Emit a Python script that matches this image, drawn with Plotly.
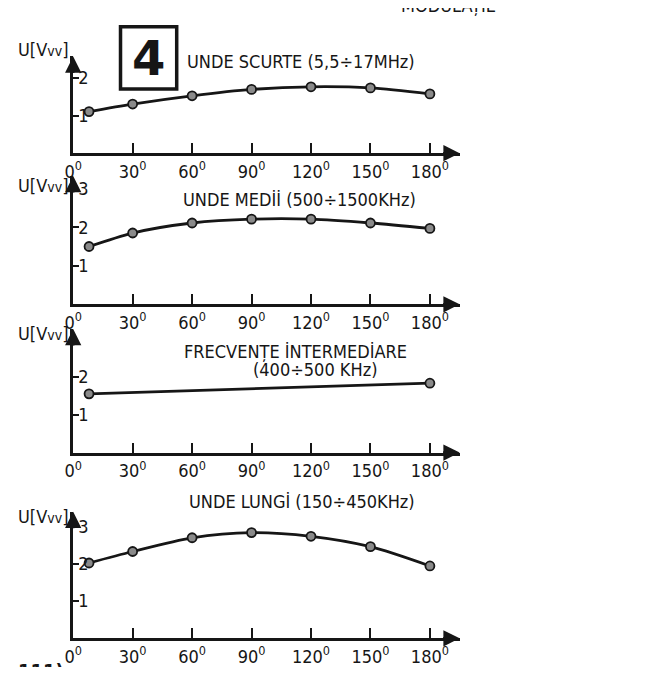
import plotly.graph_objects as go

# ---- data ----
angles = [8, 30, 60, 90, 120, 150, 180]          # first marker is drawn slightly right of the axis
u_unde_scurte = [1.11, 1.31, 1.53, 1.70, 1.77, 1.74, 1.58]
u_unde_medii = [1.50, 1.85, 2.11, 2.21, 2.21, 2.11, 1.97]
angles_fi = [8, 180]
u_frecv_interm = [1.55, 1.83]
u_unde_lungi = [2.03, 2.34, 2.71, 2.85, 2.75, 2.47, 1.95]

x_tick_vals = [0, 30, 60, 90, 120, 150, 180]
x_tick_text = ["0<sup>0</sup>", "30<sup>0</sup>", "60<sup>0</sup>", "90<sup>0</sup>",
               "120<sup>0</sup>", "150<sup>0</sup>", "180<sup>0</sup>"]

titles = [["UNDE SCURTE (5,5÷17MHz)"],
          ["UNDE MEDİİ (500÷1500KHz)"],
          ["FRECVENȚE İNTERMEDİARE", "(400÷500 KHz)"],
          ["UNDE LUNGİ (150÷450KHz)"]]
y_label = "U[V<span style='font-size:14px'>vv</span>]"

# the page places the figure a little in from the top-left corner
OFF_X, OFF_Y = 13, 8
W, H = 650 - 16, 675 - 16
FONT = "DejaVu Sans Condensed, Liberation Sans Narrow, Arial Narrow, sans-serif"
INK = "#161616"


def px(xp):
    return (xp - OFF_X) / W


def py(yp):
    return 1 - (yp - OFF_Y) / H


# panel layout (reference pixels): axis base, axis top, y max, y ticks, titles, label y
panels = [
    dict(x=angles, y=u_unde_scurte, base=155, top=57, ymax=2.58, yt=[1, 2],
         tpos=[(301, 62)], ly=50),
    dict(x=angles, y=u_unde_medii, base=308, top=178, ymax=3.33, yt=[1, 2, 3],
         tpos=[(300, 202)], ly=188),
    dict(x=angles_fi, y=u_frecv_interm, base=458, top=333, ymax=3.26, yt=[1, 2],
         tpos=[(296, 356), (315, 374)], ly=337),
    dict(x=angles, y=u_unde_lungi, base=646, top=518, ymax=3.41, yt=[1, 2, 3],
         tpos=[(302, 508)], ly=523),
]

x_left, x_right = 70, 462
xmax = 195

fig = go.Figure()
annotations = []
for i, p in enumerate(panels, start=1):
    xa = "x" if i == 1 else f"x{i}"
    ya = "y" if i == 1 else f"y{i}"
    yl = f"y{i + 4}"
    fig.add_trace(go.Scatter(
        x=p["x"], y=p["y"], xaxis=xa, yaxis=ya, mode="lines+markers",
        line=dict(color=INK, width=2.8, shape="spline", smoothing=0.8),
        marker=dict(size=9, color="#8a8a8a", line=dict(color=INK, width=1.8)),
        showlegend=False, hoverinfo="skip"))
    # empty trace so that the label-carrying axis is drawn
    fig.add_trace(go.Scatter(x=[], y=[], xaxis=xa, yaxis=yl, showlegend=False,
                             hoverinfo="skip"))
    dom_y = [py(p["base"]), py(p["top"])]
    axx = dict(domain=[px(x_left), px(x_right)], range=[0, xmax], anchor=ya,
               showline=True, linewidth=3, linecolor=INK, showgrid=False, zeroline=False,
               ticks="inside", ticklen=10, tickwidth=2, tickcolor=INK,
               tickvals=x_tick_vals, ticktext=x_tick_text,
               tickfont=dict(family=FONT, size=18, color=INK), fixedrange=True)
    axy = dict(domain=dom_y, range=[0, p["ymax"]], anchor=xa,
               showline=True, linewidth=3, linecolor=INK, showgrid=False, zeroline=False,
               ticks="inside", ticklen=6, tickwidth=2, tickcolor=INK,
               tickvals=p["yt"], showticklabels=False, fixedrange=True)
    # second, free axis that only carries the tick numbers to the right of the axis
    axlab = dict(overlaying=ya, anchor="free", position=px(74), side="right",
                 range=[0, p["ymax"]], showline=False, showgrid=False, zeroline=False,
                 ticks="", tickvals=p["yt"], ticktext=[str(v) for v in p["yt"]],
                 tickfont=dict(family=FONT, size=18, color=INK), fixedrange=True)
    fig.update_layout(**{("xaxis" if i == 1 else f"xaxis{i}"): axx,
                         ("yaxis" if i == 1 else f"yaxis{i}"): axy,
                         f"yaxis{i + 4}": axlab})
    # arrow heads on axes
    annotations.append(dict(x=xmax, y=0, xref=xa, yref=ya, ax=-18, ay=0, text="",
                            showarrow=True, arrowhead=2, arrowsize=1.3, arrowwidth=2.5,
                            arrowcolor=INK))
    annotations.append(dict(x=0, y=p["ymax"], xref=xa, yref=ya, ax=0, ay=18, text="",
                            showarrow=True, arrowhead=2, arrowsize=1.3, arrowwidth=2.5,
                            arrowcolor=INK))
    # panel title (one annotation per line)
    for line, (tx, ty) in zip(titles[i - 1], p["tpos"]):
        annotations.append(dict(x=px(tx), y=py(ty), xref="paper", yref="paper",
                                text=line, showarrow=False, xanchor="center",
                                yanchor="middle",
                                font=dict(family=FONT, size=18, color=INK)))
    # y-axis label
    annotations.append(dict(x=px(67), y=py(p["ly"]), xref="paper", yref="paper",
                            text=y_label, showarrow=False, xanchor="right", yanchor="middle",
                            font=dict(family=FONT, size=18, color=INK)))

# boxed number 4
fig.add_shape(type="rect", xref="paper", yref="paper",
              x0=px(118), x1=px(175), y0=py(90), y1=py(27),
              line=dict(color=INK, width=3.5), fillcolor="white", layer="below")
annotations.append(dict(x=px(146.5), y=py(59), xref="paper", yref="paper", text="<b>4</b>",
                        showarrow=False, xanchor="center", yanchor="middle",
                        font=dict(family="DejaVu Sans, sans-serif", size=48, color=INK)))
# clipped page fragments
annotations.append(dict(x=px(451), y=py(5), xref="paper", yref="paper", text="MODULAȚIE",
                        showarrow=False, xanchor="center", yanchor="middle",
                        font=dict(family=FONT, size=18, color=INK)))
annotations.append(dict(x=px(12), y=py(679), xref="paper", yref="paper", text="<b>111)</b>",
                        showarrow=False, xanchor="left", yanchor="middle",
                        font=dict(family=FONT, size=20, color=INK)))

fig.update_layout(width=W, height=H, margin=dict(l=0, r=0, t=0, b=0),
                  paper_bgcolor="white", plot_bgcolor="white",
                  annotations=annotations)

fig.write_html("out.html")
